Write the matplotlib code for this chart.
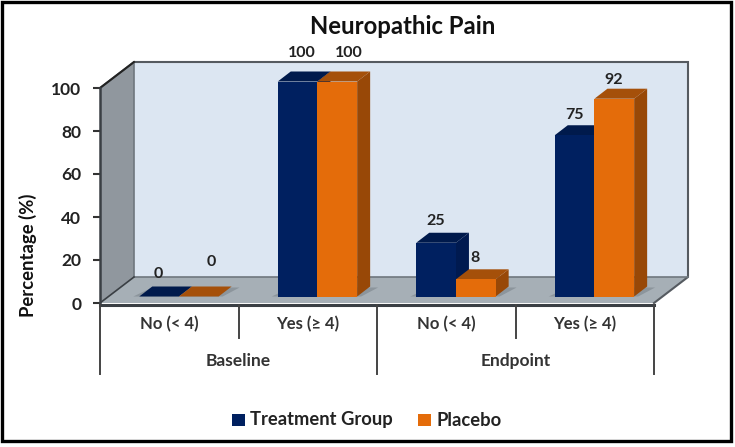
import matplotlib
matplotlib.use("Agg")
import matplotlib.pyplot as plt
from matplotlib.patches import Polygon, Rectangle

plt.rcParams['font.family'] = ['Lato', 'DejaVu Sans']

categories = ["No (< 4)", "Yes (≥ 4)", "No (< 4)", "Yes (≥ 4)"]
groups = ["Baseline", "Endpoint"]
treatment = [0, 100, 25, 75]
placebo = [0, 100, 8, 92]
y_ticks = [0, 20, 40, 60, 80, 100]

W, H = 735, 447
TEXT = "#222222"

fig = plt.figure(figsize=(W / 100, H / 100), dpi=100, facecolor="white")
# axes area is the front plane of the 3d box
ax = fig.add_axes([100 / W, 1 - 303 / H, 554 / W, 215 / H])
ax.set_xlim(0, 4)
ax.set_ylim(0, 100)
ax.patch.set_visible(False)
for s in ax.spines.values():
    s.set_visible(False)

px_x = 4 / 554
px_y = 100 / 215


def poly(pts, color, z=1, **kw):
    ax.add_patch(Polygon(pts, closed=True, facecolor=color, edgecolor=kw.pop("edgecolor", "none"),
                         clip_on=False, zorder=z, **kw))


# box: back wall, side wall, floor
dx, dy = 34 * px_x, 26 * px_y
poly([(dx, dy), (4 + dx, dy), (4 + dx, 100 + dy), (dx, 100 + dy)], "#DCE6F2", 1)
poly([(0, 0), (dx, dy), (dx, 100 + dy), (0, 100)], "#90979E", 1)
poly([(0, 0), (4, 0), (4 + dx, dy), (dx, dy)], "#A6AFB6", 1)
ax.plot([0, 4], [-0.8, -0.8], color="#3A3F44", lw=2.2, clip_on=False, zorder=2)
ax.plot([0, dx, 4 + dx, 4 + dx, 4], [100, 100 + dy, 100 + dy, dy, 0], color="#555A60", lw=1.5,
        clip_on=False, zorder=2, solid_joinstyle="miter")
ax.plot([dx, dx], [dy, 100 + dy], color="#6F777E", lw=1.2, clip_on=False, zorder=2)
ax.plot([dx, 4 + dx], [dy, dy], color="#6F777E", lw=1.2, clip_on=False, zorder=2)
ax.plot([0, dx], [0, dy], color="#3A3F44", lw=1.2, clip_on=False, zorder=2)
ax.plot([0, dx], [100, 100 + dy], color="#222222", lw=1.4, clip_on=False, zorder=2)
ax.plot([0, 0], [0, 100], color="#3A3F44", lw=1.8, clip_on=False, zorder=2)

# bars
bar_w = 39.7 * px_x
off_x, off_y = 9.7 * px_x, 6.5 * px_y
bx, by = 13 * px_x, 10 * px_y
series = [
    (treatment, -1, "#002060", "#001A4C", "#001A50"),
    (placebo, 0, "#E46C0A", "#A5500A", "#984807"),
]
for i in range(len(categories)):
    c = i + 0.5 + off_x
    # soft shadow on the floor
    left = c - bar_w
    poly([(left - 6 * px_x, off_y), (left + 2 * bar_w + 4 * px_x, off_y),
          (left + 2 * bar_w + bx + 8 * px_x, off_y + by * 0.9), (left + bx, off_y + by * 0.9)],
         "#8C959C", 2)
    for values, shift, front, top, side in series:
        v = values[i]
        x0 = c + shift * bar_w
        x1 = x0 + bar_w
        y0 = off_y
        y1 = off_y + v
        z = 3 + 0.1 * i + (shift + 1) * 0.05
        ax.bar(x0, v, width=bar_w, bottom=y0, align="edge", color=front, clip_on=False, zorder=z + 0.02)
        poly([(x1, y0), (x1 + bx, y0 + by), (x1 + bx, y1 + by), (x1, y1)], side, z)
        poly([(x0, y1), (x1, y1), (x1 + bx, y1 + by), (x0 + bx, y1 + by)], top, z + 0.01)

# data labels, hand placed in the original
label_nudge_t = [(-0.5, 23), (4, 29), (0, 22), (0, 20)]
label_nudge_p = [(12, 35), (12, 29), (-1, 21), (-1, 19)]
for i in range(len(categories)):
    c = i + 0.5 + off_x
    for values, shift, nudge in [(treatment, -0.5, label_nudge_t), (placebo, 0.5, label_nudge_p)]:
        ax.annotate(str(values[i]), (c + shift * bar_w, off_y + values[i]),
                    xytext=(nudge[i][0] * 0.72, nudge[i][1] * 0.72), textcoords="offset points",
                    ha="center", va="center", fontsize=11.5, fontweight="bold", color=TEXT,
                    zorder=10, annotation_clip=False)

# y axis
ax.set_yticks(y_ticks)
ax.tick_params(axis="y", length=5, width=1.5, color="#333333", pad=8.5, labelsize=12.5, labelcolor=TEXT)
for t in ax.get_yticklabels():
    t.set_fontweight("bold")
ax.set_xticks([])
ax.set_ylabel("Percentage (%)", fontsize=13.3, fontweight="bold", color="#111111", labelpad=0)
ax.yaxis.set_label_coords(-63 / 554, 0.22)

# two level category axis
for x in [0, 2, 4]:
    ax.plot([x, x], [-1, -33], color="#444444", lw=1.4, clip_on=False)
for x in [1, 3]:
    ax.plot([x, x], [-1, -16.5], color="#444444", lw=1.4, clip_on=False)
for i, name in enumerate(categories):
    ax.text(i + 0.5, -10, name, ha="center", va="center", fontsize=12, fontweight="bold", color="#333333")
for i, name in enumerate(groups):
    ax.text(i * 2 + 1, -27, name, ha="center", va="center", fontsize=12.5, fontweight="bold", color="#333333")

# title, legend and frame in figure coordinates
fig.text(403 / W, 1 - 27 / H, "Neuropathic Pain", ha="center", va="center", fontsize=17.2,
         fontweight="bold", color="#111111")
legend_items = [("Treatment Group", 232, 250, "#002060"), ("Placebo", 418, 436, "#E46C0A")]
for name, sx, tx, color in legend_items:
    fig.add_artist(Rectangle((sx / W, 1 - 426 / H), 13 / W, 12 / H, transform=fig.transFigure, facecolor=color))
    fig.text(tx / W, 1 - 420 / H, name, ha="left", va="center", fontsize=13.2, fontweight="bold", color="#222222")
fig.add_artist(Rectangle((2 / W, 1 - 441 / H), 729 / W, 439 / H, transform=fig.transFigure,
                         fill=False, edgecolor="black", linewidth=2.4))

fig.savefig("out.png", dpi=100)
